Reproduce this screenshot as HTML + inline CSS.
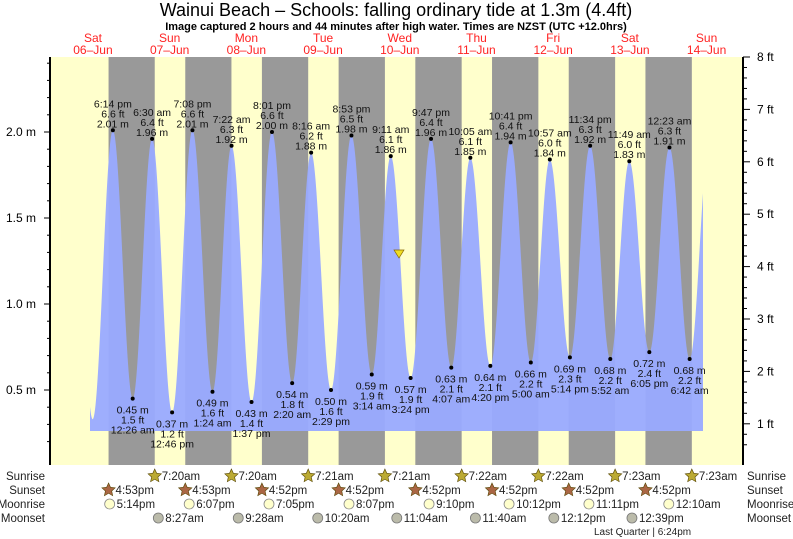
<!DOCTYPE html>
<html><head><meta charset="utf-8"><style>
html,body{margin:0;padding:0;background:#fff;}
svg{display:block;font-family:"Liberation Sans",Arial,sans-serif;}
</style></head><body>
<svg id="s" width="793" height="539" viewBox="0 0 793 539" xmlns="http://www.w3.org/2000/svg">
<rect x="50" y="57" width="693" height="408" fill="#ffffcc"/>
<g id="night" fill="#999999"></g>
<path id="tide" fill="#99aaff" fill-opacity="0.95" d=""/>
<g id="axes" stroke="#000" fill="none"></g>
<g id="txt" fill="#000"></g>
<text x="396" y="16" font-size="18" text-anchor="middle" fill="#000">Wainui Beach – Schools: falling  ordinary tide at 1.3m (4.4ft)</text>
<text x="396" y="30" font-size="11" font-weight="bold" text-anchor="middle" fill="#000">Image captured 2 hours and 44 minutes after high water. Times are NZST (UTC +12.0hrs)</text>
<polygon points="394,250 404,250 399,258" fill="#eedd22" stroke="#886600" stroke-width="0.7"/>
</svg>
<script>
var NS="http://www.w3.org/2000/svg";
function X(t){return 54.6+t*3.196;}
function Y(h){return 132+(2.0-h)*172;}
function el(p,tag,a,txt){var e=document.createElementNS(NS,tag);for(var k in a)e.setAttribute(k,a[k]);if(txt!==undefined)e.textContent=txt;document.getElementById(p).appendChild(e);return e;}
var ss=[16.883,16.883,16.867,16.867,16.867,16.867,16.867,16.867];
var sr=[7.333,7.333,7.35,7.35,7.367,7.367,7.383,7.383];
for(var d=0;d<8;d++){var a=X(d*24+ss[d]),b=X((d+1)*24+sr[d]);el("night","rect",{x:a,y:57,width:b-a,height:408});}
var T=[[5.7,2.0,null],[11.9,0.33,null],
[18.233,2.01,"6:14 pm"],[24.433,0.45,"12:26 am"],[30.5,1.96,"6:30 am"],[36.767,0.37,"12:46 pm"],
[43.133,2.01,"7:08 pm"],[49.4,0.49,"1:24 am"],[55.367,1.92,"7:22 am"],[61.617,0.43,"1:37 pm"],
[68.017,2.00,"8:01 pm"],[74.333,0.54,"2:20 am"],[80.267,1.88,"8:16 am"],[86.483,0.50,"2:29 pm"],
[92.883,1.98,"8:53 pm"],[99.233,0.59,"3:14 am"],[105.183,1.86,"9:11 am"],[111.4,0.57,"3:24 pm"],
[117.783,1.96,"9:47 pm"],[124.117,0.63,"4:07 am"],[130.083,1.85,"10:05 am"],[136.333,0.64,"4:20 pm"],
[142.683,1.94,"10:41 pm"],[149.0,0.66,"5:00 am"],[154.95,1.84,"10:57 am"],[161.233,0.69,"5:14 pm"],
[167.567,1.92,"11:34 pm"],[173.867,0.68,"5:52 am"],[179.817,1.83,"11:49 am"],[186.083,0.72,"6:05 pm"],
[192.383,1.91,"12:23 am"],[198.7,0.68,"6:42 am"],[204.9,1.95,null]];
function H(t){for(var i=0;i<T.length-1;i++){if(t>=T[i][0]&&t<=T[i+1][0]){var f=(t-T[i][0])/(T[i+1][0]-T[i][0]);return T[i][1]+(T[i+1][1]-T[i][1])*(1-Math.cos(Math.PI*f))/2;}}return 1;}
var x0=90,x1=703,d="M"+x0+",431";
for(var x=x0;x<=x1;x+=0.5){var t=(x-54.6)/3.196;d+=" L"+x+","+Y(H(t)).toFixed(1);}
d+=" L"+x1+",431 Z";document.getElementById("tide").setAttribute("d",d);
for(var i=2;i<T.length;i++){var e=T[i];if(!e[2])continue;var x=X(e[0]),y=Y(e[1]);
el("txt","circle",{cx:x,cy:y,r:2});
var ft=(e[1]/0.3048).toFixed(1)+" ft",m=e[1].toFixed(2)+" m";
var hi=e[1]>1.2,L=hi?[e[2],ft,m]:[m,ft,e[2]];var y0=hi?y-27:y+11;
for(var k=0;k<3;k++)el("txt","text",{x:x,y:y0+k*10+4,"font-size":"10.5","text-anchor":"middle",fill:"#111"},L[k]);}
el("axes","line",{x1:50,y1:57,x2:50,y2:465,"stroke-width":2});
el("axes","line",{x1:743,y1:57,x2:743,y2:465,"stroke-width":2});
for(var h=0.2;h<=2.45;h+=0.1){var y=Y(h);if(y<57||y>465)continue;var maj=Math.abs(h*2-Math.round(h*2))<0.01;
el("axes","line",{x1:maj?44:47,y1:y,x2:50,y2:y});
if(maj&&h>0.4)el("txt","text",{x:36,y:y+4,"font-size":"12","text-anchor":"end"},h.toFixed(1)+" m");}
for(var f=0.6;f<=8.01;f+=0.2){var y=57+(8-f)*52.4;if(y>465)continue;var maj=Math.abs(f-Math.round(f))<0.01;
el("axes","line",{x1:743,y1:y,x2:maj?750:747,y2:y});
if(maj&&f>=1)el("txt","text",{x:757,y:y+4,"font-size":"12"},Math.round(f)+" ft");}
var dn=["Sat","Sun","Mon","Tue","Wed","Thu","Fri","Sat","Sun"];
for(var d=0;d<9;d++){var x=X(d*24+12);var dd=("0"+(6+d)).slice(-2)+"–Jun";
el("txt","text",{x:x,y:42,"font-size":"12","text-anchor":"middle",fill:"#ff2222"},dn[d]);
el("txt","text",{x:x,y:54,"font-size":"12","text-anchor":"middle",fill:"#ff2222"},dd);}
var rows=[["Sunrise",476],["Sunset",490],["Moonrise",504],["Moonset",518]];
rows.forEach(function(r){el("txt","text",{x:45,y:r[1]+4,"font-size":"11.5","text-anchor":"end",fill:"#222"},r[0]);
el("txt","text",{x:747,y:r[1]+4,"font-size":"11.5",fill:"#222"},r[0]);});
function star(x,y,c){var p="";for(var i=0;i<10;i++){var a=-Math.PI/2+i*Math.PI/5,r=i%2?3.3:7;p+=(x+r*Math.cos(a)).toFixed(1)+","+(y+r*Math.sin(a)).toFixed(1)+" ";}
el("txt","polygon",{points:p,fill:c,stroke:"#554400","stroke-width":"0.6"});}
var srt=["7:20am","7:20am","7:21am","7:21am","7:22am","7:22am","7:23am","7:23am"];
for(var d=1;d<=8;d++){var x=X(d*24+sr[d-1]);star(x,476,"#bbaa33");el("txt","text",{x:x+7,y:480,"font-size":"11.5",fill:"#222"},srt[d-1]);}
var sst=["4:53pm","4:53pm","4:52pm","4:52pm","4:52pm","4:52pm","4:52pm","4:52pm"];
for(var d=0;d<8;d++){var x=X(d*24+ss[d]);star(x,490,"#aa6644");el("txt","text",{x:x+7,y:494,"font-size":"11.5",fill:"#222"},sst[d]);}
var mr=[[17.233,"5:14pm"],[42.117,"6:07pm"],[67.083,"7:05pm"],[92.117,"8:07pm"],[117.167,"9:10pm"],[142.2,"10:12pm"],[167.183,"11:11pm"],[192.167,"12:10am"]];
mr.forEach(function(m){var x=X(m[0]);el("txt","circle",{cx:x,cy:504,r:5,fill:"#ffffcc",stroke:"#888","stroke-width":"0.8"});el("txt","text",{x:x+7,y:508,"font-size":"11.5",fill:"#222"},m[1]);});
var ms=[[32.45,"8:27am"],[57.467,"9:28am"],[82.333,"10:20am"],[107.067,"11:04am"],[131.667,"11:40am"],[156.2,"12:12pm"],[180.65,"12:39pm"]];
ms.forEach(function(m){var x=X(m[0]);el("txt","circle",{cx:x,cy:518,r:5,fill:"#bbbbaa",stroke:"#777","stroke-width":"0.8"});el("txt","text",{x:x+7,y:522,"font-size":"11.5",fill:"#222"},m[1]);});
el("txt","text",{x:594,y:535,"font-size":"10",fill:"#222"},"Last Quarter | 6:24pm");
</script>
</body></html>
